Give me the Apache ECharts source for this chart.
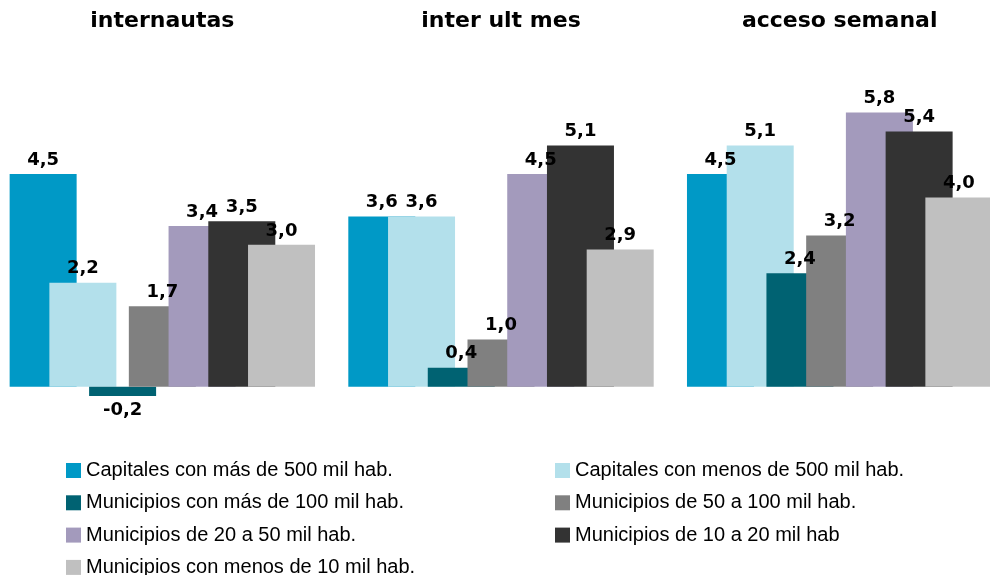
<!DOCTYPE html>
<html>
<head>
<meta charset="utf-8">
<script src="https://cdn.jsdelivr.net/npm/echarts@6/dist/echarts.min.js"></script>
<style>
  html, body { margin: 0; padding: 0; background: #fff; }
  #chart { width: 990px; height: 575px; }
</style>
</head>
<body>
<div id="chart"></div>
<script>
// chart data
const categories = ['internautas', 'inter ult mes', 'acceso semanal']
const seriesNames = [
  'Capitales con más de 500 mil hab.',
  'Capitales con menos de 500 mil hab.',
  'Municipios con más de 100 mil hab.',
  'Municipios de 50 a 100 mil hab.',
  'Municipios de 20 a 50 mil hab.',
  'Municipios de 10 a 20 mil hab',
  'Municipios con menos de 10 mil hab.',
]
const capitalesMas500 = [4.5, 3.6, 4.5]
const capitalesMenos500 = [2.2, 3.6, 5.1]
const municipiosMas100 = [-0.2, 0.4, 2.4]
const municipios50a100 = [1.7, 1.0, 3.2]
const municipios20a50 = [3.4, 4.5, 5.8]
const municipios10a20 = [3.5, 5.1, 5.4]
const municipiosMenos10 = [3.0, 2.9, 4.0]

const seriesValues = [
  capitalesMas500, capitalesMenos500, municipiosMas100, municipios50a100,
  municipios20a50, municipios10a20, municipiosMenos10,
]
const seriesColors = ['#0099c6', '#b3e0eb', '#006272', '#808080', '#a39abc', '#333333', '#c0c0c0']

const labelFont = 'DejaVu Sans, Verdana, sans-serif'
const legendFont = 'Liberation Sans, Arial, sans-serif'

const chart = echarts.init(document.getElementById('chart'))

const legendStyle = {
  orient: 'vertical',
  icon: 'rect',
  padding: 0,
  itemWidth: 15,
  itemHeight: 15,
  itemGap: 12.3,
  top: 460.5,
  height: 130,
  textStyle: { fontFamily: legendFont, fontSize: 20, lineHeight: 20, color: '#000' },
}

chart.setOption({
  animation: false,
  color: seriesColors,
  grid: { left: -7, width: 1016, top: 55.8, height: 425.4, outerBoundsMode: 'none', containLabel: false },
  xAxis: {
    type: 'category',
    data: categories,
    position: 'top',
    axisLine: { show: false },
    axisTick: { show: false },
    axisLabel: {
      margin: 24,
      fontFamily: labelFont,
      fontWeight: 'bold',
      fontSize: 22,
      color: '#000',
    },
  },
  yAxis: {
    type: 'value',
    min: -2,
    max: 7,
    show: false,
    splitLine: { show: false },
  },
  legend: [
    _legend(0, 66),
    _legend(1, 555),
  ],
  series: seriesValues.map((vals, i) => ({
    name: seriesNames[i],
    type: 'bar',
    barWidth: 67,
    barGap: '-40.7%',
    itemStyle: { color: seriesColors[i] },
    label: {
      show: true,
      distance: 5,
      fontFamily: labelFont,
      fontWeight: 'bold',
      fontSize: 18,
      color: '#000',
      formatter: p => p.value.toFixed(1).replace('.', ','),
    },
    data: vals.map(v => ({ value: v, label: { position: v < 0 ? 'bottom' : 'top' } })),
  })),
})

function _legend (col, left) {
  return Object.assign({}, legendStyle, {
    left: left,
    data: seriesNames.filter((n, i) => i % 2 === col),
  })
}
</script>
</body>
</html>
